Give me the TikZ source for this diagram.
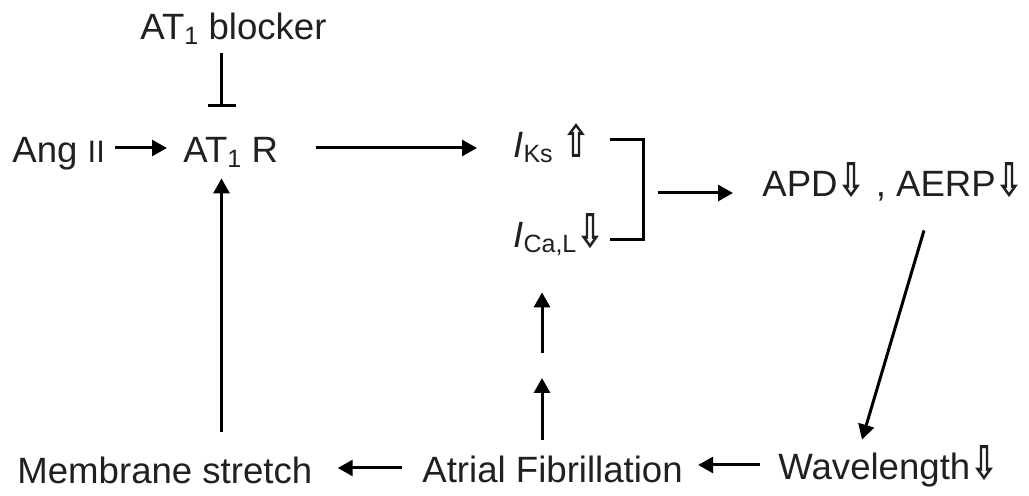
\documentclass[tikz,border=0pt]{standalone}
\usepackage{fontspec}
\setmainfont{Liberation Sans}
\newfontfamily\flechafont{DejaVu Sans}
\usepackage{graphicx}
\usetikzlibrary{arrows.meta}
\definecolor{textgris}{HTML}{231F20}
\newcommand{\subind}[1]{\raisebox{-2.5pt}{\fontsize{12.5pt}{13pt}\selectfont #1}}
\newcommand{\sube}{\resizebox{14pt}{17pt}{\flechafont\bfseries ⇧}}
\newcommand{\baja}{\resizebox{14pt}{17pt}{\flechafont\bfseries ⇩}}
\begin{document}
\begin{tikzpicture}[x=0.5pt, y=-0.5pt,
			every node/.style={font=\fontsize{18.3pt}{20pt}\selectfont, text=textgris},
			texto/.style={anchor=base west, inner sep=0pt, text height=15pt, text depth=0pt},
			flecha/.style={draw=black, line width=1.5pt, -{Triangle[length=7.5pt, width=8pt]}},
			bloqueo/.style={draw=black, line width=1.5pt, -{Bar[width=14pt]}},
			corchete/.style={draw=black, line width=1.5pt}]
		\useasboundingbox (0,0) rectangle (1029,496);
		\node[texto] (bloq) at (140,40)  {AT\subind{1} blocker};
		\node[texto] (ang)  at (12,163)  {Ang {\fontsize{15.5pt}{16pt}\selectfont II}};
		\node[texto] (at1r) at (183,163) {AT\subind{1} R};
		\node[texto] (iks)  at (513,158) {\textit{I}\subind{Ks} \sube};
		\node[texto] (ical) at (513,248) {\textit{I}\subind{Ca,L}\baja};
		\node[texto] (apd)  at (762,197) {APD\baja\ , AERP\baja};
		\node[texto] (onda) at (778,480) {Wavelength\baja};
		\node[texto] (fa)   at (422,483) {Atrial Fibrillation};
		\node[texto] (mem)  at (17,484)  {Membrane stretch};
		\coordinate (colx) at (221.5,0);
		\coordinate (ctop) at (610,140);
		\coordinate (cmed) at (643,193);
		\coordinate (cbaj) at (610,240);
		\coordinate (fmed) at (542,365.5);
		\draw[flecha, shorten <=5pt, shorten >=8pt] (ang.east) -- (at1r.west);
		\draw[bloqueo, shorten <=6.5pt, shorten >=13pt] (bloq.south -| colx) -- (at1r.north -| colx);
		\draw[flecha, shorten <=19pt, shorten >=18pt] (at1r.east) -- (at1r.east -| iks.west);
		\draw[corchete] (ctop) -| (cmed) |- (cbaj);
		\draw[flecha, shorten <=7.5pt, shorten >=14.5pt] (cmed) -- (cmed -| apd.west);
		\draw[flecha] ([xshift=81pt, yshift=-16.5pt]apd.south west) -- ([xshift=42pt, yshift=5pt]onda.north west);
		\draw[flecha, shorten <=9pt, shorten >=7.5pt] (onda.west) -- (onda.west -| fa.east);
		\draw[flecha, shorten <=10pt, shorten >=12.5pt] (fa.west) -- (fa.west -| mem.east);
		\draw[flecha, shorten <=11pt, shorten >=7.5pt] (mem.north -| colx) -- (at1r.south -| colx);
		\draw[flecha, shorten <=6.5pt, shorten >=6.25pt] (fa.north -| fmed) -- (fmed);
		\draw[flecha, shorten <=6.25pt, shorten >=22pt] (fmed) -- (ical.south -| fmed);
	\end{tikzpicture}
\end{document}
